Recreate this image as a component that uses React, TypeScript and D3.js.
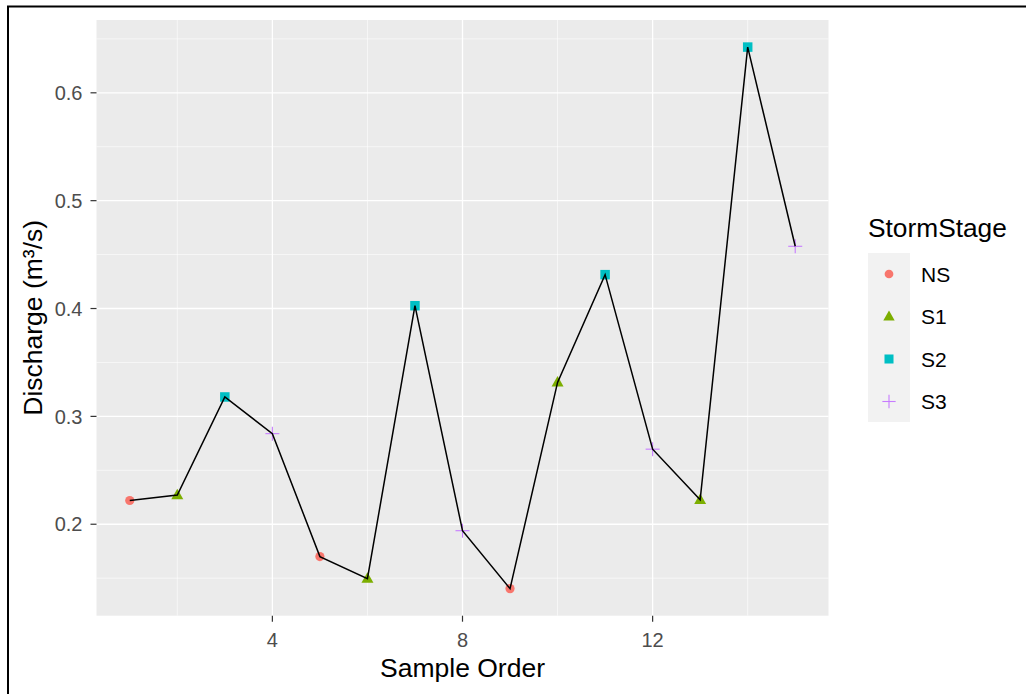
import React from "react";
import * as d3 from "d3";

const sampleOrder = [1, 2, 3, 4, 5, 6, 7, 8, 9, 10, 11, 12, 13, 14, 15];
const discharge = [0.222, 0.227, 0.318, 0.284, 0.170, 0.1496, 0.4026, 0.194, 0.1403, 0.3315, 0.4314, 0.2696, 0.2226, 0.6424, 0.4577];
const stage = ["NS", "S1", "S2", "S3", "NS", "S1", "S2", "S3", "NS", "S1", "S2", "S3", "S1", "S2", "S3"];
const stages = ["NS", "S1", "S2", "S3"];
const stageColors = ["#F8766D", "#7CAE00", "#00BFC4", "#C77CFF"];
const xTicks = [4, 8, 12];
const xMinor = [2, 6, 10, 14];
const yTicks = [0.2, 0.3, 0.4, 0.5, 0.6];
const yMinor = [0.15, 0.25, 0.35, 0.45, 0.55, 0.65];

const FONT = "'Liberation Sans', Arial, sans-serif";

function Marker({ s, cx, cy, color, scale = 1 }: { s: string; cx: number; cy: number; color: string; scale?: number }) {
  if (s === "NS") return <circle cx={cx} cy={cy} r={4.6 * scale} fill={color} />;
  if (s === "S1") {
    const h = 10.5 * scale, w = 12 * scale;
    const p = d3.path();
    p.moveTo(cx, cy - h * 0.6);
    p.lineTo(cx + w / 2, cy + h * 0.4);
    p.lineTo(cx - w / 2, cy + h * 0.4);
    p.closePath();
    return <path d={p.toString()} fill={color} />;
  }
  if (s === "S2") {
    const a = 9.5 * scale;
    return <rect x={cx - a / 2} y={cy - a / 2} width={a} height={a} fill={color} />;
  }
  const a = 7 * scale;
  return (
    <g stroke={color} strokeWidth={1.1}>
      <line x1={cx - a} x2={cx + a} y1={cy} y2={cy} />
      <line x1={cx} x2={cx} y1={cy - a} y2={cy + a} />
    </g>
  );
}

export default function App() {
  const W = 1026, H = 694;
  const left = 96.5, right = 828.5, top = 20, bottom = 615.7;
  const x = d3.scaleLinear().domain([0.3, 15.7]).range([left, right]);
  const yMin = 0.1403, yMax = 0.6424, r = yMax - yMin;
  const y = d3.scaleLinear().domain([yMin - 0.05 * r, yMax + 0.05 * r]).range([bottom, top]);
  const color = d3.scaleOrdinal<string, string>().domain(stages).range(stageColors);
  const line = d3.line<number>().x((_, i) => x(sampleOrder[i])).y((d) => y(d));

  return (
    <svg width={W} height={H} style={{ position: "absolute", left: 0, top: 0, background: "#fff" }}>
      <rect x={0} y={0} width={W} height={H} fill="#fff" />
      <line x1={8} x2={8} y1={6} y2={H} stroke="#000" strokeWidth={2} />
      <line x1={7} x2={W} y1={6.5} y2={6.5} stroke="#000" strokeWidth={2} />
      <rect x={left} y={top} width={right - left} height={bottom - top} fill="#EBEBEB" />
      {yMinor.map((v) => (
        <line key={"ym" + v} x1={left} x2={right} y1={y(v)} y2={y(v)} stroke="#fff" strokeWidth={0.6} />
      ))}
      {xMinor.map((v) => (
        <line key={"xm" + v} x1={x(v)} x2={x(v)} y1={top} y2={bottom} stroke="#fff" strokeWidth={0.6} />
      ))}
      {yTicks.map((v) => (
        <line key={"yM" + v} x1={left} x2={right} y1={y(v)} y2={y(v)} stroke="#fff" strokeWidth={1.3} />
      ))}
      {xTicks.map((v) => (
        <line key={"xM" + v} x1={x(v)} x2={x(v)} y1={top} y2={bottom} stroke="#fff" strokeWidth={1.3} />
      ))}
      {discharge.map((v, i) => (
        <Marker key={"pt" + i} s={stage[i]} cx={x(sampleOrder[i])} cy={y(v)} color={color(stage[i])} />
      ))}
      <path d={line(discharge) || ""} fill="none" stroke="#000" strokeWidth={1.5} />
      {yTicks.map((v) => (
        <g key={"yt" + v}>
          <line x1={left - 6} x2={left} y1={y(v)} y2={y(v)} stroke="#333" strokeWidth={1.2} />
          <text x={left - 14} y={y(v)} dy="0.36em" textAnchor="end" fontFamily={FONT} fontSize={20} fill="#4D4D4D">
            {d3.format(".1f")(v)}
          </text>
        </g>
      ))}
      {xTicks.map((v) => (
        <g key={"xt" + v}>
          <line x1={x(v)} x2={x(v)} y1={bottom} y2={bottom + 6} stroke="#333" strokeWidth={1.2} />
          <text x={x(v)} y={646.5} textAnchor="middle" fontFamily={FONT} fontSize={20} fill="#4D4D4D">
            {v}
          </text>
        </g>
      ))}
      <text x={(left + right) / 2} y={677} textAnchor="middle" fontFamily={FONT} fontSize={26.5} fill="#000">
        Sample Order
      </text>
      <text
        transform={`translate(41.5,${(top + bottom) / 2}) rotate(-90)`}
        textAnchor="middle"
        fontFamily={FONT}
        fontSize={26.5}
        fill="#000"
      >
        Discharge (m³/s)
      </text>
      <text x={868} y={237} fontFamily={FONT} fontSize={26.3} fill="#000">
        StormStage
      </text>
      <rect x={868} y={253} width={42} height={169} fill="#F2F2F2" />
      {stages.map((s, i) => {
        const cy = 274 + i * 42.5;
        return (
          <g key={"lg" + s}>
            <Marker s={s} cx={889} cy={cy} color={color(s)} scale={0.95} />
            <text x={921} y={cy} dy="0.36em" fontFamily={FONT} fontSize={21} fill="#000">
              {s}
            </text>
          </g>
        );
      })}
    </svg>
  );
}
